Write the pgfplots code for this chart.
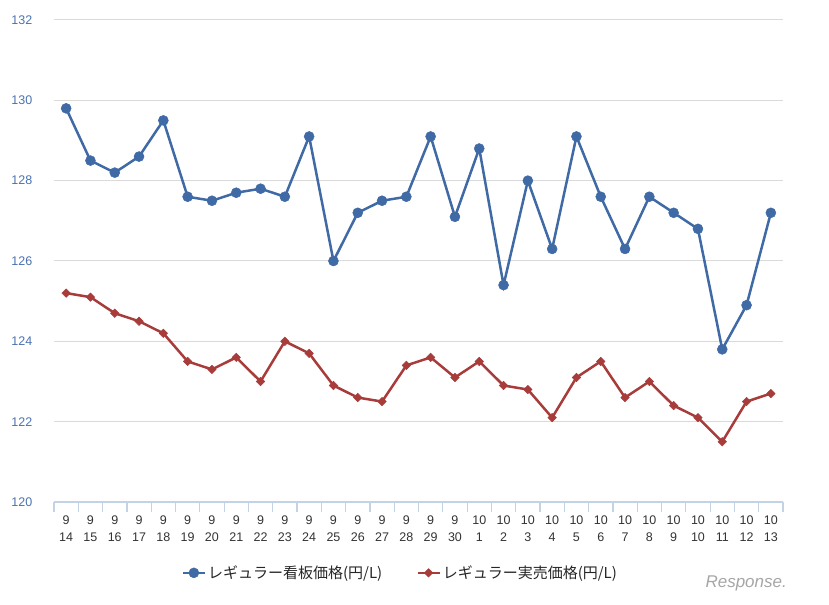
\documentclass[border=0pt]{standalone}
\usepackage{pgfplots}
\pgfplotsset{compat=1.18}
\usepackage{pgfplotstable}
\usepackage{fontspec}
\setmainfont{Liberation Sans}
\newfontfamily\cjk{Noto Sans CJK JP}
\definecolor{bser}{HTML}{3F6AA5}
\definecolor{rser}{HTML}{A83C3A}
\definecolor{ylab}{HTML}{4A72B0}
\definecolor{axblue}{HTML}{C3D3E6}
\definecolor{gridc}{HTML}{DADADA}
\pgfplotstableread{
x blue red
0 129.8 125.2
1 128.5 125.1
2 128.2 124.7
3 128.6 124.5
4 129.5 124.2
5 127.6 123.5
6 127.5 123.3
7 127.7 123.6
8 127.8 123.0
9 127.6 124.0
10 129.1 123.7
11 126.0 122.9
12 127.2 122.6
13 127.5 122.5
14 127.6 123.4
15 129.1 123.6
16 127.1 123.1
17 128.8 123.5
18 125.4 122.9
19 128.0 122.8
20 126.3 122.1
21 129.1 123.1
22 127.6 123.5
23 126.3 122.6
24 127.6 123.0
25 127.2 122.4
26 126.8 122.1
27 123.8 121.5
28 124.9 122.5
29 127.2 122.7
}\data
\begin{document}
\begin{tikzpicture}
\useasboundingbox (0,0) rectangle (829bp,605bp);
\begin{axis}[
  at={(54bp,103bp)}, anchor=south west,
  scale only axis, width=729bp, height=482bp,
  xmin=-0.5, xmax=29.5, ymin=120, ymax=132,
  ytick={120,122,...,132},
  axis x line*=bottom, axis y line*=left,
  y axis line style={draw=none},
  x axis line style={draw=axblue, line width=1.5bp, -},
  ytick style={draw=none},
  ymajorgrids, grid style={gridc, line width=1bp},
  xtick={0,...,29},
  xticklabels={{9\\14},{9\\15},{9\\16},{9\\17},{9\\18},{9\\19},{9\\20},{9\\21},{9\\22},{9\\23},{9\\24},{9\\25},{9\\26},{9\\27},{9\\28},{9\\29},{9\\30},{10\\1},{10\\2},{10\\3},{10\\4},{10\\5},{10\\6},{10\\7},{10\\8},{10\\9},{10\\10},{10\\11},{10\\12},{10\\13}},
  xticklabel style={align=center, font=\fontsize{12.5bp}{17.5bp}\selectfont, text=black!80, yshift=-6bp},
  yticklabel style={font=\fontsize{12.5bp}{14bp}\selectfont, text=ylab, xshift=-14bp},
  /pgf/number format/assume math mode=true,
  major x tick style={draw=none},
  minor xtick={-0.5,0.5,...,29.5},
  minor x tick style={draw=axblue, line width=1.2bp},
  tick align=outside,
  minor tick length=10bp,
  legend style={at={(0.475,-0.147)}, anchor=center, draw=none, fill=none,
    font=\cjk\fontsize{15bp}{17bp}\selectfont, text=black!85,
    /tikz/every even column/.append style={column sep=32bp}},
  legend columns=2,
  legend image code/.code={\draw[mark repeat=2,mark phase=2] plot coordinates {(0bp,0bp)(11bp,0bp)(22bp,0bp)};},
]
\addplot[bser, line width=2.5bp, mark=*, mark size=5bp, mark options={solid, fill=bser, draw=bser, line width=0.5bp}] table[x=x,y=blue]{\data};
\addlegendentry{レギュラー看板価格(円/L)}
\addplot[rser, line width=2.5bp, mark=square*, mark size=3bp, mark options={solid, fill=rser, draw=rser, line width=0.5bp, rotate=45}] table[x=x,y=red]{\data};
\addlegendentry{レギュラー実売価格(円/L)}
\end{axis}
\node[anchor=west, text=black!35, font=\fontsize{17bp}{18bp}\selectfont\itshape] at (702bp,22bp) {Response.};
\end{tikzpicture}
\end{document}
